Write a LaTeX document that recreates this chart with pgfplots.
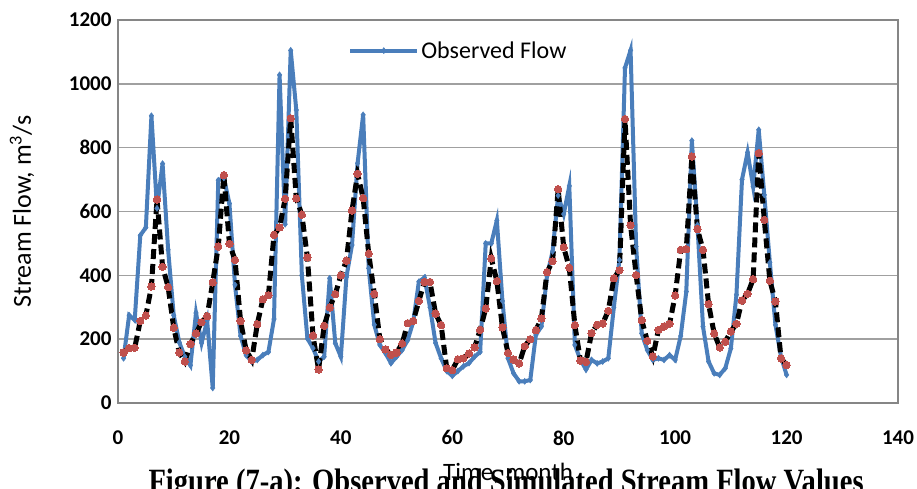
\documentclass[border=0pt]{standalone}
\usepackage{pgfplots}
\pgfplotsset{compat=1.18}
\usepackage{fontspec}
\setmainfont{Carlito}
\newfontfamily\capfont{Liberation Serif}[FakeStretch=0.84]
\definecolor{obs}{RGB}{74,126,187}
\definecolor{simred}{RGB}{192,80,77}
\definecolor{gridc}{RGB}{160,160,160}
\definecolor{framec}{RGB}{134,134,134}
\begin{document}
\begin{tikzpicture}
\begin{axis}[
  scale only axis, width=780pt, height=383pt,
  xmin=0, xmax=140, ymin=0, ymax=1200,
  xtick={0,20,...,140}, ytick={0,200,...,1200},
  major tick length=0pt,
  ymajorgrids, grid style={draw=gridc, line width=1.5pt},
  axis line style={draw=framec, line width=2pt},
  /pgf/number format/assume math mode=true,
  /pgf/number format/1000 sep={},
  tick label style={font=\fontsize{21}{21}\selectfont\bfseries},
  xticklabel style={yshift=-24pt},
  yticklabel style={xshift=-3pt},
  xlabel={Time, month},
  ylabel={Stream Flow, m\textsuperscript{3}/s},
  every axis x label/.style={at={(rel axis cs:0.5,0)}, yshift=-70pt, anchor=center,
    font=\fontsize{25}{25}\selectfont},
  every axis y label/.style={at={(rel axis cs:0,0.5)}, xshift=-96pt, anchor=center, rotate=90,
    font=\fontsize{26}{26}\selectfont},
  legend style={draw=none, fill=none, at={(rel axis cs:0.295,0.92)}, anchor=west,
    font=\fontsize{24}{24}\selectfont, inner sep=0pt},
  legend image code/.code={\draw[#1, mark indices={2}] plot coordinates {(0pt,0pt) (33.5pt,0pt) (67pt,0pt)};},
]
\addplot[obs, line width=4pt, mark=diamond*, mark size=3pt, mark options={solid, line width=0.5pt}] coordinates {
(1,140) (2,275) (3,260) (4,525) (5,550) (6,900) (7,610) (8,750) (9,480) (10,275)
(11,190) (12,145) (13,118) (14,282) (15,188) (16,258) (17,47) (18,698) (19,705) (20,625)
(21,370) (22,210) (23,150) (24,130) (25,135) (26,150) (27,160) (28,263) (29,1028) (30,560)
(31,1105) (32,918) (33,400) (34,202) (35,172) (36,130) (37,145) (38,391) (39,187) (40,145)
(41,395) (42,495) (43,751) (44,903) (45,422) (46,245) (47,182) (48,156) (49,125) (50,145)
(51,166) (52,197) (53,255) (54,380) (55,393) (56,300) (57,188) (58,140) (59,100) (60,85)
(61,100) (62,115) (63,125) (64,145) (65,160) (66,500) (67,500) (68,572) (69,320) (70,140)
(71,93) (72,68) (73,68) (74,72) (75,213) (76,240) (77,398) (78,475) (79,650) (80,592)
(81,680) (82,182) (83,135) (84,105) (85,135) (86,124) (87,130) (88,140) (89,300) (90,448)
(91,1050) (92,1105) (93,490) (94,218) (95,166) (96,135) (97,140) (98,135) (99,150) (100,135)
(101,210) (102,349) (103,822) (104,558) (105,239) (106,130) (107,93) (108,88) (109,109) (110,171)
(111,339) (112,700) (113,785) (114,678) (115,856) (116,652) (117,440) (118,245) (119,145) (120,88)
};
\addlegendentry{Observed Flow}
\addplot[black, line width=5pt, dash pattern=on 10pt off 5pt, mark=*, mark size=3.7pt,
  mark options={solid, fill=simred, draw=simred, line width=0pt}, forget plot] coordinates {
(1,158) (2,172) (3,173) (4,257) (5,274) (6,365) (7,638) (8,427) (9,363) (10,236)
(11,158) (12,130) (13,185) (14,218) (15,253) (16,272) (17,378) (18,490) (19,714) (20,499)
(21,448) (22,257) (23,165) (24,135) (25,247) (26,325) (27,338) (28,527) (29,550) (30,640)
(31,892) (32,641) (33,590) (34,456) (35,211) (36,105) (37,242) (38,299) (39,341) (40,400)
(41,446) (42,603) (43,718) (44,642) (45,468) (46,342) (47,200) (48,168) (49,151) (50,158)
(51,186) (52,250) (53,257) (54,320) (55,379) (56,379) (57,280) (58,244) (59,109) (60,103)
(61,137) (62,140) (63,155) (64,174) (65,229) (66,296) (67,453) (68,382) (69,237) (70,157)
(71,136) (72,124) (73,178) (74,200) (75,228) (76,265) (77,410) (78,444) (79,670) (80,488)
(81,424) (82,244) (83,133) (84,129) (85,219) (86,245) (87,249) (88,289) (89,391) (90,416)
(91,890) (92,557) (93,401) (94,260) (95,195) (96,146) (97,229) (98,240) (99,248) (100,337)
(101,480) (102,482) (103,772) (104,545) (105,480) (106,310) (107,218) (108,174) (109,192) (110,224)
(111,248) (112,321) (113,342) (114,388) (115,783) (116,574) (117,383) (118,318) (119,140) (120,119)
};
\end{axis}
\node[font=\capfont\bfseries\fontsize{34}{34}\selectfont, anchor=base west] at (27pt,-89pt)
  {Figure (7-a): Observed and Simulated Stream Flow Values};
\pgfresetboundingbox
\useasboundingbox (-118pt,-86pt) rectangle (799pt,403pt);
\end{tikzpicture}
\end{document}
